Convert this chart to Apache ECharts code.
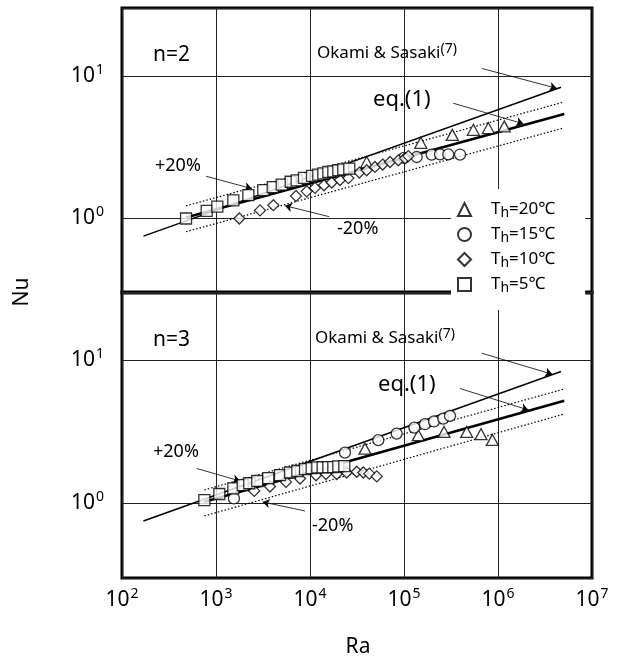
<!DOCTYPE html>
<html><head><meta charset="utf-8">
<script src="https://cdn.jsdelivr.net/npm/echarts@6/dist/echarts.min.js"></script>
<style>html,body{margin:0;padding:0;background:#fff}#c{width:633px;height:664px}</style>
</head><body><div id="c"></div>
<script>
// ---------------- data ----------------
const legendTemps = [20, 15, 10, 5];
const xTickExps = [2, 3, 4, 5, 6, 7];
const yTickExps = [0, 1];

// panel n=2
const n2_Th20_Ra = [40100, 150700, 326600, 547000, 789000, 1167000];
const n2_Th20_Nu = [2.49, 3.40, 3.86, 4.19, 4.31, 4.43];
const n2_Th15_Ra = [100000, 136500, 196800, 241500, 295800, 394500];
const n2_Th15_Nu = [2.66, 2.70, 2.81, 2.82, 2.82, 2.81];
const n2_Th10_Ra = [1770, 2938, 4074, 7096, 9226, 11300, 14090, 17020, 20840, 25590, 33500, 40100, 49100, 59300, 71000, 87100, 102500, 111200];
const n2_Th10_Nu = [1.00, 1.14, 1.24, 1.44, 1.55, 1.64, 1.71, 1.79, 1.86, 1.92, 2.10, 2.18, 2.30, 2.39, 2.49, 2.56, 2.65, 2.74];
const n2_Th5_Ra = [480, 796, 1033, 1528, 2209, 3186, 4009, 5000, 6237, 7211, 8630, 10500, 12250, 13870, 15670, 17700, 20000, 22590, 26180];
const n2_Th5_Nu = [1.00, 1.13, 1.21, 1.34, 1.46, 1.58, 1.66, 1.73, 1.81, 1.85, 1.93, 1.99, 2.03, 2.07, 2.12, 2.14, 2.18, 2.21, 2.24];

// panel n=3
const n3_Th20_Ra = [38460, 141900, 266700, 464500, 659600, 871000];
const n3_Th20_Nu = [2.41, 2.99, 3.15, 3.15, 3.04, 2.77];
const n3_Th15_Ra = [1550, 23550, 53330, 83560, 128800, 167100, 208500, 261800, 308400];
const n3_Th15_Nu = [1.08, 2.26, 2.76, 3.07, 3.38, 3.57, 3.73, 3.91, 4.08];
const n3_Th10_Ra = [2553, 3750, 5560, 7834, 11590, 14790, 19230, 24550, 31410, 36900, 42760, 51290];
const n3_Th10_Nu = [1.22, 1.31, 1.41, 1.49, 1.57, 1.60, 1.60, 1.64, 1.66, 1.64, 1.61, 1.54];
const n3_Th5_Ra = [752, 1084, 1528, 1923, 2259, 2748, 3597, 4797, 6124, 7328, 8846, 10420, 11960, 13640, 15670, 17700, 20000, 23170];
const n3_Th5_Nu = [1.05, 1.16, 1.27, 1.34, 1.38, 1.43, 1.50, 1.57, 1.64, 1.68, 1.73, 1.76, 1.78, 1.78, 1.79, 1.79, 1.81, 1.82];

// correlation lines (endpoints)
const n2_okami_Ra = [169, 4680000];   const n2_okami_Nu = [0.752, 8.34];
const n2_eq_Ra    = [480, 5070000];   const n2_eq_Nu    = [1.016, 5.42];
const n2_up_Ra    = [480, 4950000];   const n2_up_Nu    = [1.227, 6.55];
const n2_lo_Ra    = [480, 4950000];   const n2_lo_Nu    = [0.807, 4.31];
const n3_okami_Ra = [169, 4680000];   const n3_okami_Nu = [0.752, 8.34];
const n3_eq_Ra    = [752, 5070000];   const n3_eq_Nu    = [1.026, 5.20];
const n3_up_Ra    = [752, 4950000];   const n3_up_Nu    = [1.239, 6.27];
const n3_lo_Ra    = [752, 4950000];   const n3_lo_Nu    = [0.815, 4.19];

// annotation arrows (start Ra,Nu -> end Ra,Nu)
const n2_arrows = [[671000, 11.3, 4210000, 8.20], [334000, 6.44, 1860000, 4.62], [783, 1.98, 2400, 1.62], [16000, 1.03, 5420, 1.23]];
const n3_arrows = [[671000, 11.2, 3780000, 7.98], [394500, 6.34, 2100000, 4.49], [624, 1.75, 1800, 1.43], [8850, 0.883, 3140, 1.02]];

// ---------------- chart ----------------
const FONT = "'Noto Sans', 'Noto Sans CJK JP', sans-serif";
const zip = (a, b) => a.map((v, i) => [v, b[i]]);
function expLabel(v) {
  const e = Math.log10(v), r = Math.round(e);
  if (Math.abs(e - r) > 1e-6) return '';
  return '{b|10}{s|' + r + '}';
}
const supRich = {
  b: { fontSize: 21, lineHeight: 26, fontFamily: FONT, color: '#000' },
  s: { fontSize: 14, lineHeight: 15, verticalAlign: 'top', fontFamily: FONT, color: '#000', padding: [0, 0, 0, 1] }
};
const gridStyle = { show: true, borderColor: '#000', borderWidth: 3, backgroundColor: 'transparent' };
const split = { show: true, lineStyle: { color: '#222', width: 1 } };

function xAx(i, labels) {
  return { gridIndex: i, type: 'log', logBase: 10, min: Math.pow(10, xTickExps[0]), max: Math.pow(10, xTickExps[xTickExps.length - 1]),
    axisLine: { show: false }, axisTick: { show: false }, splitLine: split,
    axisLabel: labels ? { formatter: expLabel, rich: supRich, margin: 9 } : { show: false } };
}
function yAx(i) {
  return { gridIndex: i, type: 'log', logBase: 10, min: 0.3, max: 30,
    axisLine: { show: false }, axisTick: { show: false }, splitLine: split,
    axisLabel: { formatter: expLabel, rich: supRich, margin: 18 } };
}
function lineSer(i, ra, nu, width, type, extra) {
  return Object.assign({ type: 'line', xAxisIndex: i, yAxisIndex: i, data: zip(ra, nu), symbol: 'none', silent: true, z: 2,
    lineStyle: { color: '#000', width: width, type: type } }, extra || {});
}
function arrowMark(arr) {
  return { silent: true, symbol: ['none', 'arrow'], symbolSize: 7, label: { show: false },
    lineStyle: { color: '#000', width: 0.8, type: 'solid' },
    data: arr.map(a => [{ coord: [a[0], a[1]] }, { coord: [a[2], a[3]] }]) };
}
const symbols = { 20: ['triangle', [12, 11]], 15: ['circle', 11], 10: ['diamond', [11, 11]], 5: ['rect', 11] };
const nm = t => 'Th=' + t + '℃';
function scat(i, t, ra, nu) {
  return { type: 'scatter', name: nm(t), xAxisIndex: i, yAxisIndex: i, data: zip(ra, nu),
    symbol: symbols[t][0], symbolSize: symbols[t][1], z: 5,
    itemStyle: { color: '#fff', borderColor: '#000', borderWidth: 1.3 } };
}

function txt(x, y, text, size, rich, align) {
  return { type: 'text', x: x, y: y, z: 10, style: { text: text, fontSize: size, fontFamily: FONT, fill: '#000',
    align: align || 'left', verticalAlign: 'middle', rich: rich } };
}
const okRich = { a: { fontSize: 17, fontFamily: FONT, lineHeight: 22 }, s: { fontSize: 14, fontFamily: FONT, lineHeight: 14, verticalAlign: 'top' } };
const okText = '{a|Okami & Sasaki}{s|(7)}';

const option = {
  animation: false,
  backgroundColor: '#fff',
  grid: [Object.assign({ left: 122, top: 8, width: 470, height: 285 }, gridStyle),
         Object.assign({ left: 122, top: 292, width: 470, height: 286 }, gridStyle)],
  xAxis: [xAx(0, false), xAx(1, true)],
  yAxis: [yAx(0), yAx(1)],
  legend: {
    data: legendTemps.map(nm), orient: 'vertical', left: 451, top: 189, itemGap: 6, itemWidth: 13, itemHeight: 13,
    backgroundColor: '#fff', padding: [12, 30, 15, 6], z: 6, selectedMode: false,
    formatter: n => '{p|}{t|T}{h|h}{t|' + n.slice(2) + '}',
    textStyle: { rich: {
      p: { width: 15 },
      t: { fontSize: 17, lineHeight: 21, fontFamily: FONT, color: '#000' },
      h: { fontSize: 14, lineHeight: 14, verticalAlign: 'bottom', fontFamily: FONT, color: '#000' } } }
  },
  series: [
    lineSer(0, n2_okami_Ra, n2_okami_Nu, 1.5, 'solid', { markLine: arrowMark(n2_arrows) }),
    lineSer(0, n2_eq_Ra, n2_eq_Nu, 2.6, 'solid'),
    lineSer(0, n2_up_Ra, n2_up_Nu, 1.2, [1.5, 2]),
    lineSer(0, n2_lo_Ra, n2_lo_Nu, 1.2, [1.5, 2]),
    lineSer(1, n3_okami_Ra, n3_okami_Nu, 1.5, 'solid', { markLine: arrowMark(n3_arrows) }),
    lineSer(1, n3_eq_Ra, n3_eq_Nu, 2.6, 'solid'),
    lineSer(1, n3_up_Ra, n3_up_Nu, 1.2, [1.5, 2]),
    lineSer(1, n3_lo_Ra, n3_lo_Nu, 1.2, [1.5, 2]),
    scat(0, 20, n2_Th20_Ra, n2_Th20_Nu), scat(0, 15, n2_Th15_Ra, n2_Th15_Nu),
    scat(0, 10, n2_Th10_Ra, n2_Th10_Nu), scat(0, 5, n2_Th5_Ra, n2_Th5_Nu),
    scat(1, 20, n3_Th20_Ra, n3_Th20_Nu), scat(1, 15, n3_Th15_Ra, n3_Th15_Nu),
    scat(1, 10, n3_Th10_Ra, n3_Th10_Nu), scat(1, 5, n3_Th5_Ra, n3_Th5_Nu)
  ],
  graphic: [
    txt(153, 55, 'n=2', 21),
    txt(317, 53, okText, 17, okRich),
    txt(373, 100, 'eq.(1)', 22),
    txt(155, 166, '+20%', 18),
    txt(337, 229, '-20%', 18),
    txt(153, 340, 'n=3', 21),
    txt(315, 338, okText, 17, okRich),
    txt(378, 385, 'eq.(1)', 22),
    txt(153, 452, '+20%', 18),
    txt(312, 526, '-20%', 18),
    Object.assign(txt(22, 292, 'Nu', 21, null, 'center'), { rotation: Math.PI / 2 }),
    txt(358, 647, 'Ra', 21, null, 'center')
  ]
};
const chart = echarts.init(document.getElementById('c'), null, { renderer: 'canvas' });
chart.setOption(option);
</script>
</body></html>
